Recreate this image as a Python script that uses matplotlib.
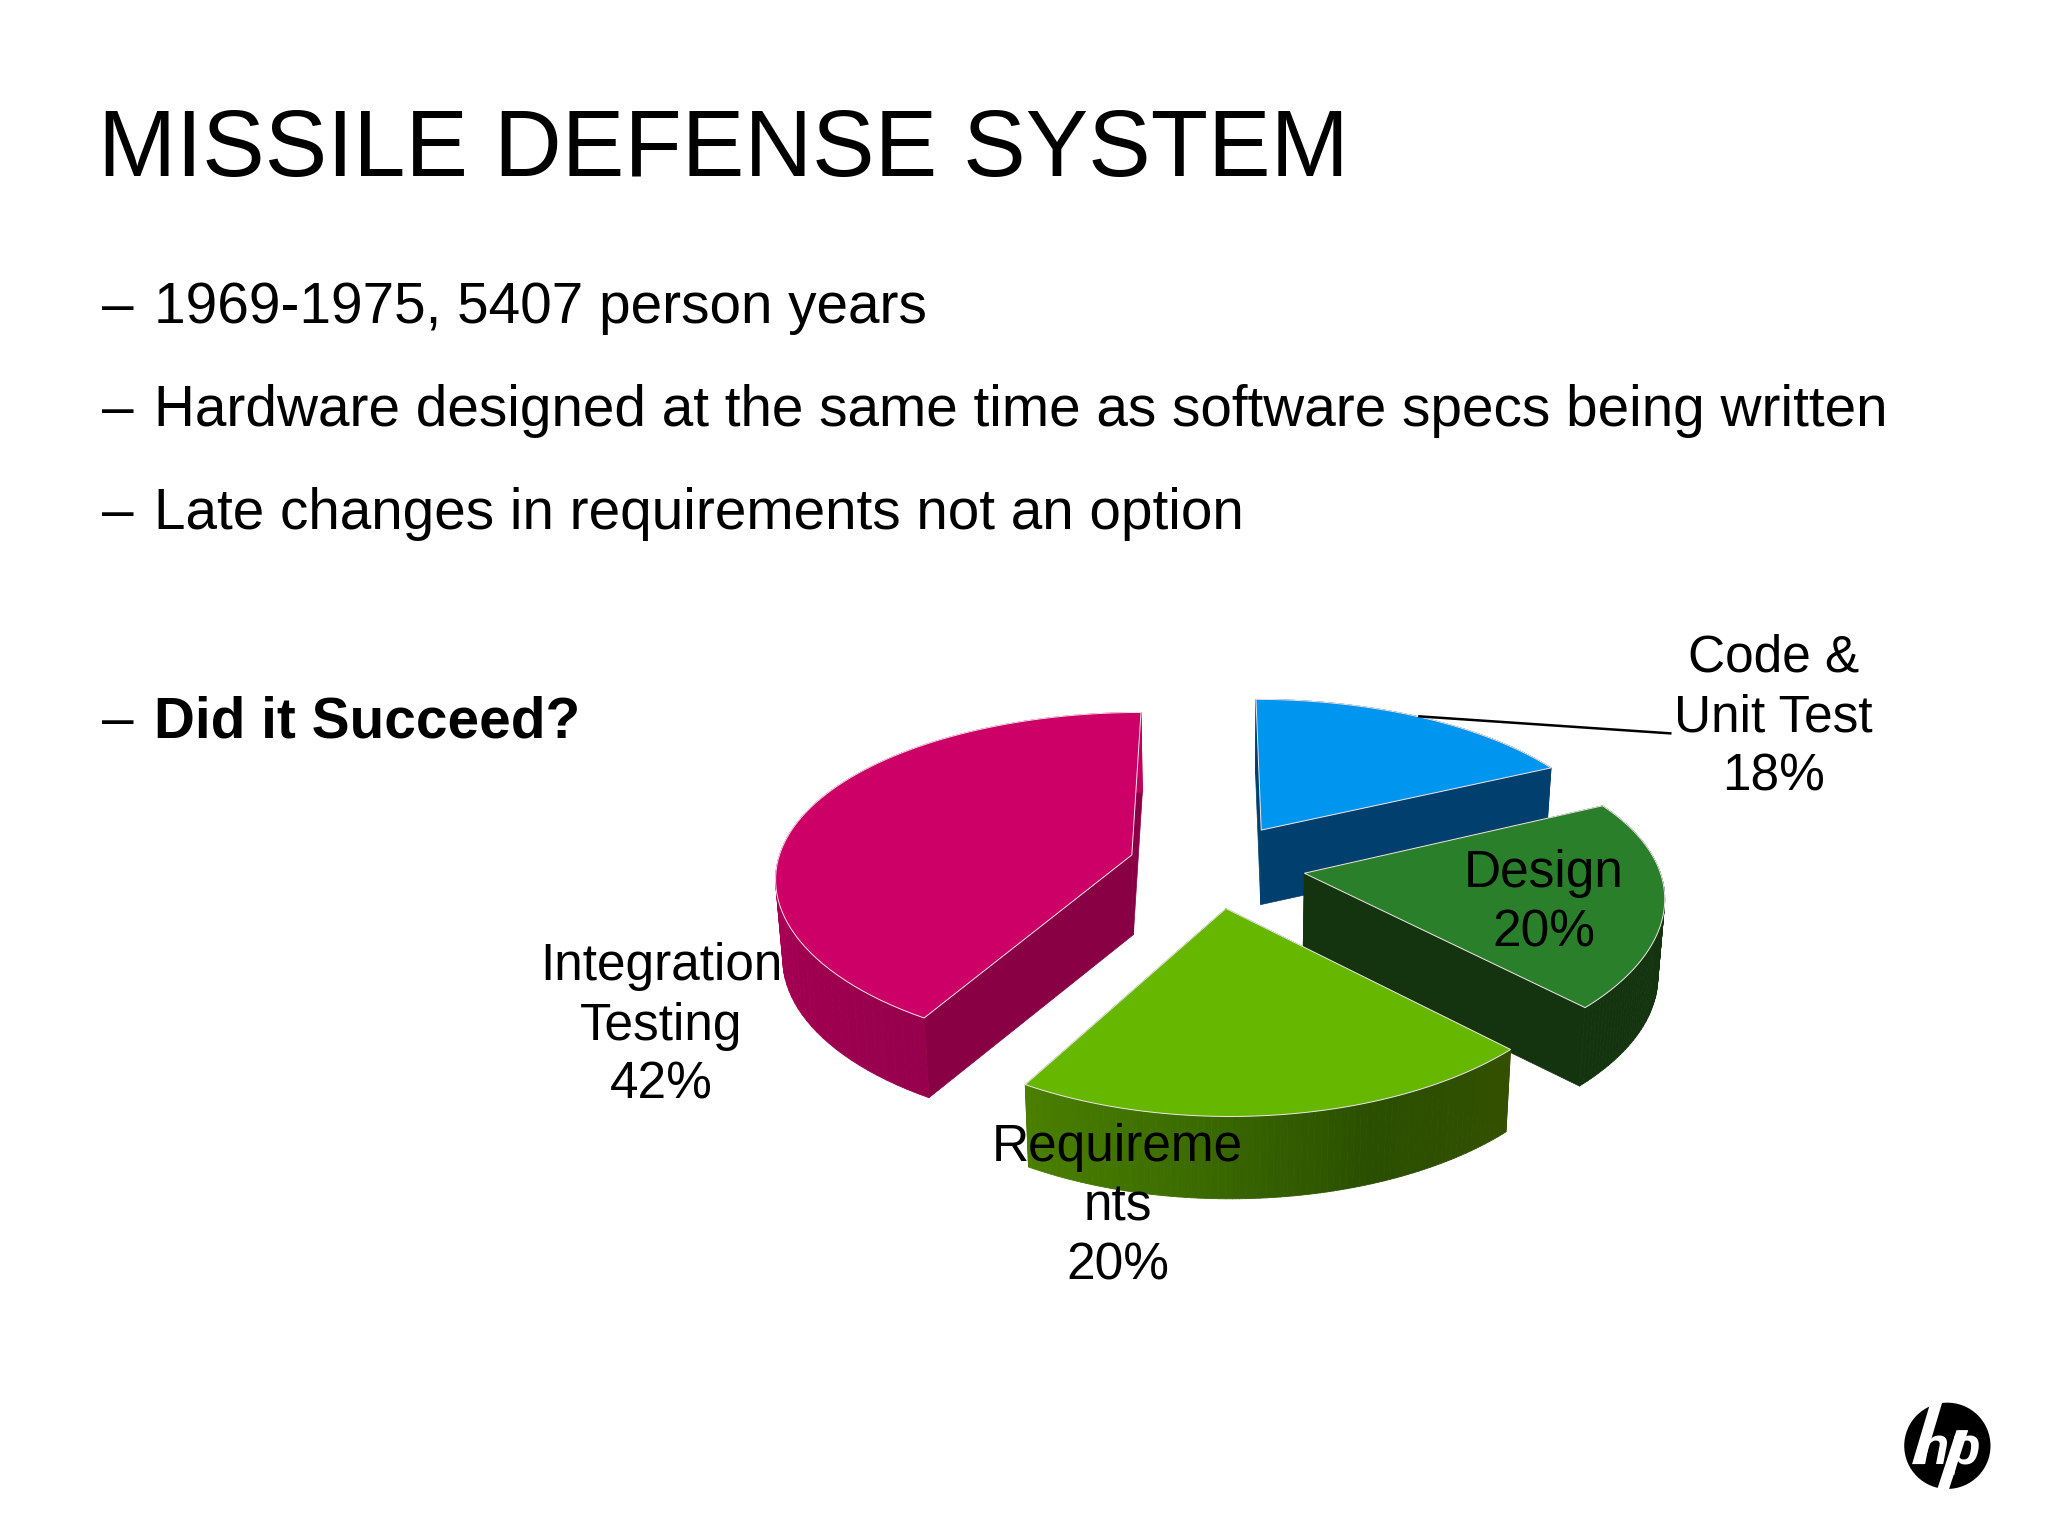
import numpy as np
import matplotlib
matplotlib.use('Agg')
import matplotlib.pyplot as plt
from matplotlib.collections import PolyCollection
from matplotlib.colors import LinearSegmentedColormap
from matplotlib.patches import Circle, Polygon

plt.rcParams['font.family'] = ['Liberation Sans', 'DejaVu Sans']

title = 'MISSILE DEFENSE SYSTEM'
bullets = ['1969-1975, 5407 person years',
           'Hardware designed at the same time as software specs being written',
           'Late changes in requirements not an option',
           'Did it Succeed?']

# clockwise from 12 o'clock
phases = ['Code &\nUnit Test', 'Design', 'Requireme\nnts', 'Integration\nTesting']
shares = [18, 20, 20, 42]

# canvas units are 1567x1175, scaled to the 2048x1536 output
apex_x = [965, 998, 938, 866]
apex_y = [635, 668, 695, 654]
rim_dx = [0, 3, 3, 2]
rim_dy = [0, -4, 1, -9]
lean = [-4, 4, 0, 5]
depth = [57, 60, 63, 61]
top_colors = ['#0096F0', '#2A7F2A', '#65B700', '#CC0066']
cut_colors = ['#003F6E', '#14340F', '#2F5500', '#8A0045']
wall_colors = [['#003F6E', '#003F6E'],
               ['#14340F', '#14340F'],
               ['#335000', '#2A4F00', '#3B6B00', '#4A7F00'],
               ['#96004C', '#A80054', '#BE005E', '#C2005F']]
label_x = [1357, 1181, 855, 506]
label_y = [549, 691, 923, 785]

R = 268
H = 122.5
KX = 0.2
KY = 0.225
VANISH_X = 940
TAPER = 0.016


def project(i, theta):
    """Perspective position of the rim point at angle theta (deg from top, clockwise)"""
    u = np.sin(np.radians(theta))
    v = np.cos(np.radians(theta))
    x = apex_x[i] + rim_dx[i] + R * u / (1 + KX * v) + lean[i] * v
    y = apex_y[i] + rim_dy[i] - H * v / (1 + KY * v)
    return x, y


def lower(i, x, y):
    """Same point on the bottom of the slab, verticals converge slightly"""
    return x + (VANISH_X - x) * TAPER, y + depth[i]


def draw_wedge(ax, i, start, end):
    t = np.linspace(start, end, 80)
    x, y = project(i, t)
    ax0, ay0 = apex_x[i], apex_y[i]
    bx, by = lower(i, x, y)
    abx, aby = lower(i, ax0, ay0)

    # cut faces, back to front
    for j in (0, -1):
        ax.add_patch(Polygon([(ax0, ay0), (x[j], y[j]), (bx[j], by[j]), (abx, aby)],
                             closed=True, facecolor=cut_colors[i], edgecolor=cut_colors[i], lw=0.5))

    # outer wall with gradient along the arc
    cmap = LinearSegmentedColormap.from_list('wall', wall_colors[i])
    quads = [[(x[j], y[j]), (x[j + 1], y[j + 1]), (bx[j + 1], by[j + 1]), (bx[j], by[j])]
             for j in range(len(t) - 1)]
    cols = cmap(np.linspace(0, 1, len(quads)))
    ax.add_collection(PolyCollection(quads, facecolors=cols, edgecolors=cols, linewidths=0.6))

    # top face
    ax.add_patch(Polygon(np.vstack([[ax0, ay0], np.column_stack([x, y])]), closed=True,
                         facecolor=top_colors[i], edgecolor='#F2E6EA', lw=0.7))


def main():
    fig = plt.figure(figsize=(20.48, 15.36), dpi=100, facecolor='white')
    ax = fig.add_axes([0, 0, 1, 1])
    ax.set_xlim(0, 1567)
    ax.set_ylim(1175, 0)
    ax.axis('off')

    ax.text(75, 135, title, fontsize=67.5, va='baseline', ha='left', color='black')

    for txt, by, weight in zip(bullets, [247, 326, 405, 564], ['normal', 'normal', 'normal', 'bold']):
        ax.text(78, by, '\u2013', fontsize=40.9, va='baseline', ha='left')
        ax.text(118, by, txt, fontsize=40.9, va='baseline', ha='left', fontweight=weight)

    edges = np.concatenate([[0], np.cumsum(shares)]) * 3.6
    for i in [3, 0, 1, 2]:
        draw_wedge(ax, i, edges[i], edges[i + 1])

    ax.plot([1086, 1278], [548, 561], color='black', lw=1.8, zorder=5)

    for name, share, lx, ly in zip(phases, shares, label_x, label_y):
        ax.text(lx, ly, f'{name}\n{share}%', fontsize=37, ha='center', va='center',
                linespacing=1.27, zorder=6)

    # hp logo
    ax.add_patch(Circle((1490, 1106), 33, facecolor='black', edgecolor='none', zorder=7))
    ax.text(1491, 1120, 'hp', fontsize=38, color='white', fontweight='bold', style='italic',
            ha='center', va='baseline', zorder=8)
    ax.add_patch(Polygon([(1477, 1073), (1486, 1073), (1472, 1120), (1463, 1120)], closed=True,
                         facecolor='white', edgecolor='none', zorder=8))
    ax.add_patch(Polygon([(1497, 1094), (1506, 1094), (1491, 1140), (1482, 1140)], closed=True,
                         facecolor='white', edgecolor='none', zorder=8))

    fig.savefig('out.png', dpi=100)


if __name__ == "__main__":
    main()
